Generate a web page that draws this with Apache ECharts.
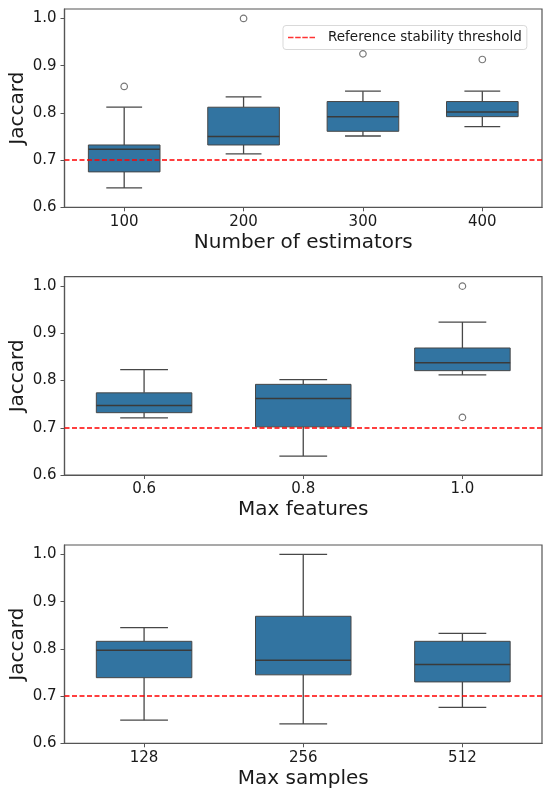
<!DOCTYPE html>
<html>
<head>
<meta charset="utf-8">
<title>Jaccard stability</title>
<script src="https://cdn.jsdelivr.net/npm/echarts@6.0.0/dist/echarts.min.js"></script>
<style>
  html, body { margin: 0; padding: 0; background: #fff; }
  #chart { width: 550px; height: 797px; }
</style>
</head>
<body>
<div id="chart"></div>
<script>
// box stats per category: [min, q1, median, q3, max]
var estimatorLabels = ['100', '200', '300', '400'];
var estimatorBoxes = [
  [0.641, 0.675, 0.723, 0.732, 0.812],
  [0.713, 0.732, 0.750, 0.812, 0.834],
  [0.751, 0.761, 0.792, 0.824, 0.846],
  [0.771, 0.792, 0.802, 0.824, 0.846]
];
// outliers: [category index, value]
var estimatorOutliers = [[0, 0.856], [1, 1.0], [2, 0.925], [3, 0.913]];

var featureLabels = ['0.6', '0.8', '1.0'];
var featureBoxes = [
  [0.721, 0.732, 0.747, 0.774, 0.823],
  [0.640, 0.702, 0.762, 0.792, 0.802],
  [0.812, 0.821, 0.838, 0.869, 0.924]
];
var featureOutliers = [[2, 1.0], [2, 0.722]];

var sampleLabels = ['128', '256', '512'];
var sampleBoxes = [
  [0.649, 0.739, 0.797, 0.816, 0.845],
  [0.641, 0.745, 0.776, 0.869, 1.0],
  [0.676, 0.730, 0.767, 0.816, 0.833]
];
var sampleOutliers = [];

var yTicks = [0.6, 0.7, 0.8, 0.9, 1.0];
var threshold = 0.7;
var thresholdName = 'Reference stability threshold';
var xTitles = ['Number of estimators', 'Max features', 'Max samples'];

var FONT = 'DejaVu Sans';
var BOX_COLOR = '#3274a1';
var LINE_COLOR = '#474747';
var TEXT_COLOR = '#1a1a1a';
// four short dashes for the legend key
var DASH_ICON = 'path://M0,0h5.5v1.5h-5.5z M7.2,0h5.5v1.5h-5.5z M14.3,0h5.5v1.5h-5.5z M21.5,0h5.5v1.5h-5.5z';

var chart = echarts.init(document.getElementById('chart'), null, { renderer: 'canvas' });

// seaborn-like box: half width caps, filled box, median line
function renderBox(params, api) {
  var x = api.value(0);
  var lo = api.coord([x, api.value(1)]);
  var q1 = api.coord([x, api.value(2)]);
  var med = api.coord([x, api.value(3)]);
  var q3 = api.coord([x, api.value(4)]);
  var hi = api.coord([x, api.value(5)]);
  var bw = api.size([1, 0])[0] * 0.6;
  var cx = lo[0];
  var cap = bw / 4;
  var ls = { stroke: LINE_COLOR, lineWidth: 1.3 };
  return {
    type: 'group',
    children: [
      { type: 'line', shape: { x1: cx, y1: q1[1], x2: cx, y2: lo[1] }, style: ls },
      { type: 'line', shape: { x1: cx, y1: q3[1], x2: cx, y2: hi[1] }, style: ls },
      { type: 'line', shape: { x1: cx - cap, y1: lo[1], x2: cx + cap, y2: lo[1] }, style: ls },
      { type: 'line', shape: { x1: cx - cap, y1: hi[1], x2: cx + cap, y2: hi[1] }, style: ls },
      {
        type: 'rect',
        shape: { x: cx - bw / 2, y: q3[1], width: bw, height: q1[1] - q3[1] },
        style: { fill: BOX_COLOR, stroke: LINE_COLOR, lineWidth: 1 }
      },
      { type: 'line', shape: { x1: cx - bw / 2, y1: med[1], x2: cx + bw / 2, y2: med[1] }, style: { stroke: '#3a3a3a', lineWidth: 1.5 } }
    ]
  };
}

function boxData(boxes) {
  return boxes.map(function (b, i) { return [i].concat(b); });
}

var panels = [
  { labels: estimatorLabels, boxes: estimatorBoxes, outliers: estimatorOutliers, top: 9 },
  { labels: featureLabels, boxes: featureBoxes, outliers: featureOutliers, top: 276.7 },
  { labels: sampleLabels, boxes: sampleBoxes, outliers: sampleOutliers, top: 545 }
];

var grids = [], xAxes = [], yAxes = [], series = [];

panels.forEach(function (p, k) {
  grids.push({
    left: 64.5, right: 8, top: p.top, height: 198.3,
    outerBoundsMode: 'none', containLabel: false,
    show: true, borderColor: '#555', borderWidth: 1.2, backgroundColor: '#fff'
  });
  xAxes.push({
    type: 'category', gridIndex: k, data: p.labels,
    axisLine: { show: true, lineStyle: { color: '#555', width: 1.2 } },
    axisTick: { show: true, alignWithLabel: true, length: 4, lineStyle: { color: '#555' } },
    axisLabel: { fontFamily: FONT, fontSize: 15, color: TEXT_COLOR, margin: 7 },
    name: xTitles[k], nameLocation: 'middle', nameGap: 25, nameMoveOverlap: false,
    nameTextStyle: { fontFamily: FONT, fontSize: 20, color: TEXT_COLOR },
    splitLine: { show: false }
  });
  yAxes.push({
    type: 'value', gridIndex: k, min: 0.6, max: 1.02, interval: 0.1,
    axisLine: { show: true, lineStyle: { color: '#555', width: 1.2 } },
    axisTick: { show: true, length: 4, customValues: yTicks, lineStyle: { color: '#555' } },
    axisLabel: {
      fontFamily: FONT, fontSize: 15, color: TEXT_COLOR, margin: 8,
      customValues: yTicks,
      formatter: function (v) { return v.toFixed(1); }
    },
    name: 'Jaccard', nameLocation: 'middle', nameGap: 37, nameMoveOverlap: false,
    nameTextStyle: { fontFamily: FONT, fontSize: 20, color: TEXT_COLOR },
    splitLine: { show: false }
  });
  series.push({
    type: 'custom', xAxisIndex: k, yAxisIndex: k,
    renderItem: renderBox,
    encode: { x: 0, y: [1, 2, 3, 4, 5] },
    data: boxData(p.boxes),
    silent: true, z: 2,
    markLine: {
      silent: true, symbol: 'none', z: 5,
      label: { show: false },
      lineStyle: { color: '#ff0000', type: [5, 2.5], width: 1.5 },
      data: [{ yAxis: threshold }]
    }
  });
  series.push({
    type: 'scatter', xAxisIndex: k, yAxisIndex: k,
    data: p.outliers, symbol: 'circle', symbolSize: 6.5,
    itemStyle: { color: 'rgba(255,255,255,0)', borderColor: '#555', borderWidth: 1.2 },
    silent: true, z: 3
  });
});

// empty series only for the legend entry
series.push({
  type: 'scatter', name: thresholdName, xAxisIndex: 0, yAxisIndex: 0,
  data: [],
  itemStyle: { color: '#ff0000' }
});

chart.setOption({
  backgroundColor: '#ffffff',
  animation: false,
  grid: grids,
  xAxis: xAxes,
  yAxis: yAxes,
  legend: {
    data: [{ name: thresholdName, icon: DASH_ICON }],
    left: 283, top: 25.5,
    itemWidth: 27, itemHeight: 1.6,
    padding: [4, 5, 4, 5],
    backgroundColor: '#fff', borderColor: '#d9d9d9', borderWidth: 1, borderRadius: 3,
    textStyle: { fontFamily: FONT, fontSize: 13.5, color: TEXT_COLOR, padding: [0, 0, 0, 8], lineHeight: 16 }
  },
  series: series
});
</script>
</body>
</html>
